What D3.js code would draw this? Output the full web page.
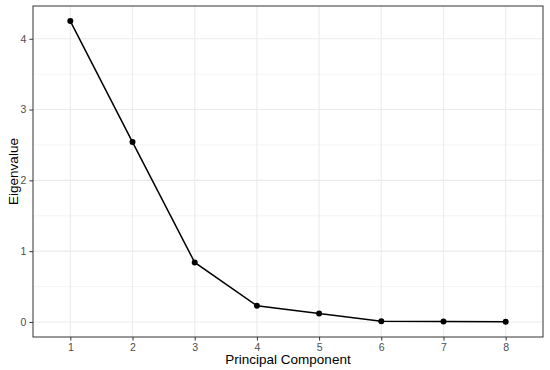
<!DOCTYPE html>
<html>
<head>
<meta charset="utf-8">
<script src="https://cdn.jsdelivr.net/npm/d3@7"></script>
<style>
  body { margin: 0; background: #fff; }
  svg { font-family: "Liberation Sans", Arial, sans-serif; }
</style>
</head>
<body>
<svg id="chart" width="550" height="370"></svg>
<script>
// scree plot data
const components = [1, 2, 3, 4, 5, 6, 7, 8];
const eigenvalues = [4.25, 2.54, 0.84, 0.23, 0.12, 0.01, 0.005, 0.003];
const yTicks = [0, 1, 2, 3, 4];

const data = components.map((c, i) => ({ pc: c, value: eigenvalues[i] }));

const width = 550, height = 370;
const margin = { top: 6, right: 7, bottom: 33, left: 33 };
const innerWidth = width - margin.left - margin.right;
const innerHeight = height - margin.top - margin.bottom;

const svg = d3.select("#chart");
const g = svg.append("g").attr("transform", `translate(${margin.left},${margin.top})`);

// discrete-like x scale (0.6 expansion each side)
const x = d3.scaleLinear().domain([0.4, 8.6]).range([0, innerWidth]);

const ymax = d3.max(eigenvalues), ymin = 0;
const pad = (ymax - ymin) * 0.05;
const y = d3.scaleLinear().domain([ymin - pad, ymax + pad]).range([innerHeight, 0]);

// minor grid (y)
const yMinor = yTicks.slice(0, -1).map(d => d + 0.5);
g.selectAll(".minor-y").data(yMinor).enter().append("line")
  .attr("x1", 0).attr("x2", innerWidth)
  .attr("y1", d => y(d)).attr("y2", d => y(d))
  .style("stroke", "#ebebeb").style("stroke-width", 0.55);

// major grid
g.selectAll(".major-y").data(yTicks).enter().append("line")
  .attr("x1", 0).attr("x2", innerWidth)
  .attr("y1", d => y(d)).attr("y2", d => y(d))
  .style("stroke", "#ebebeb").style("stroke-width", 1.1);

g.selectAll(".major-x").data(components).enter().append("line")
  .attr("y1", 0).attr("y2", innerHeight)
  .attr("x1", d => x(d)).attr("x2", d => x(d))
  .style("stroke", "#ebebeb").style("stroke-width", 1.1);

// line
const line = d3.line().x(d => x(d.pc)).y(d => y(d.value));
g.append("path")
  .datum(data)
  .attr("d", line)
  .style("fill", "none")
  .style("stroke", "black")
  .style("stroke-width", 1.5);

g.selectAll(".dot").data(data).enter().append("circle")
  .attr("cx", d => x(d.pc))
  .attr("cy", d => y(d.value))
  .attr("r", 3)
  .style("fill", "black");

// panel border
g.append("rect")
  .attr("x", 0).attr("y", 0)
  .attr("width", innerWidth).attr("height", innerHeight)
  .style("fill", "none").style("stroke", "#333333").style("stroke-width", 1);

// axes
const xAxis = g.append("g")
  .attr("transform", `translate(0,${innerHeight})`)
  .call(d3.axisBottom(x).tickValues(components).tickFormat(d3.format("d")).tickSize(3.6).tickPadding(3));
const yAxis = g.append("g")
  .call(d3.axisLeft(y).tickValues(yTicks).tickFormat(d3.format("d")).tickSize(3.6).tickPadding(3));

[xAxis, yAxis].forEach(ax => {
  ax.select(".domain").remove();
  ax.selectAll("line").style("stroke", "#333333");
  ax.selectAll("text")
    .style("font-size", "10.5px")
    .style("font-family", "Liberation Sans, Arial, sans-serif")
    .style("fill", "#4d4d4d");
});

// axis titles
svg.append("text")
  .attr("x", margin.left + innerWidth / 2)
  .attr("y", 364)
  .attr("text-anchor", "middle")
  .style("font-size", "13.5px")
  .text("Principal Component");

svg.append("text")
  .attr("transform", `translate(18,${margin.top + innerHeight / 2}) rotate(-90)`)
  .attr("text-anchor", "middle")
  .style("font-size", "13.5px")
  .text("Eigenvalue");
</script>
</body>
</html>
